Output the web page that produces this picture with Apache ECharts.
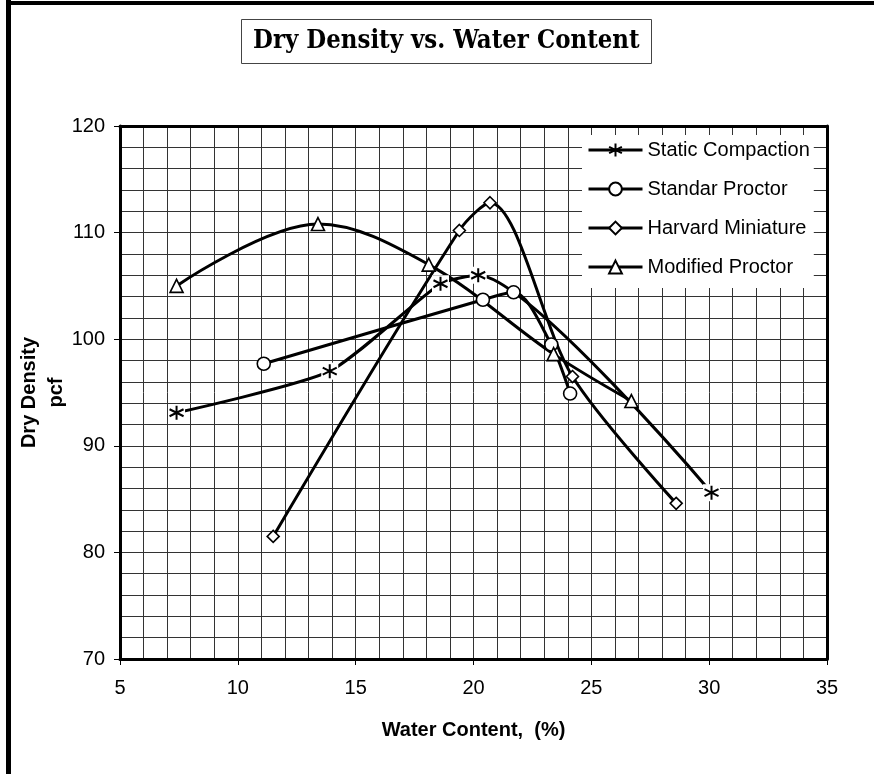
<!DOCTYPE html>
<html><head><meta charset="utf-8">
<script src="https://cdn.jsdelivr.net/npm/echarts@6/dist/echarts.min.js"></script>
<style>html,body{margin:0;padding:0;background:#fff}#c{width:874px;height:774px}</style>
</head><body><div id="c"></div>
<script>
// ---- data ----
const seriesNames = ['Static Compaction', 'Standar Proctor', 'Harvard Miniature', 'Modified Proctor'];
const staticX   = [7.4, 13.9, 18.6, 20.2, 30.1];
const staticY   = [93.1, 97.0, 105.2, 106.0, 85.6];
const standardX = [11.1, 20.4, 21.7, 23.3, 24.1];
const standardY = [97.7, 103.7, 104.4, 99.5, 94.9];
const harvardX  = [11.5, 19.4, 20.7, 24.2, 28.6];
const harvardY  = [81.5, 110.2, 112.8, 96.5, 84.6];
const modifiedX = [7.4, 13.4, 18.1, 23.4, 26.7];
const modifiedY = [105.0, 110.8, 107.0, 98.6, 94.2];
const xTicks = [5, 10, 15, 20, 25, 30, 35];
const yTicks = [70, 80, 90, 100, 110, 120];
const titleText = 'Dry Density vs. Water Content';
const xName = 'Water Content,  (%)';
const yName = 'Dry Density\npcf';

const pairs = (xs, ys) => xs.map((x, i) => [x, ys[i]]);
const ASTER = 'path://M0,-10L0,10M-8.66,-5L8.66,5M-8.66,5L8.66,-5';
const FONT = '"Liberation Sans", Arial, sans-serif';

function lineSeries(name, data, symbol, size, smooth) {
  return {
    name, type: 'line', data, smooth, symbol, symbolSize: size,
    showAllSymbol: true, z: 2,
    lineStyle: { color: '#000', width: 3 },
    itemStyle: { color: '#fff', borderColor: '#000', borderWidth: 1.6, opacity: 1 },
    emphasis: { disabled: true }
  };
}
const grid = { left: 120, top: 126, right: 47, bottom: 115 };
const gridLine = { show: true, lineStyle: { color: '#333', width: 1 } };

const option = {
  backgroundColor: '#fff',
  animation: false,
  title: {
    text: titleText, left: 241, top: 19,
    padding: [7, 12, 7, 12],
    borderColor: '#444', borderWidth: 1,
    textStyle: { fontFamily: '"DejaVu Serif Condensed", "Liberation Serif", serif', fontWeight: 'bold', fontSize: 25.5, lineHeight: 31, color: '#000' }
  },
  legend: {
    data: seriesNames, orient: 'vertical', left: 582, top: 135,
    itemWidth: 54, itemHeight: 16, itemGap: 17,
    padding: [4, 4, 10, 5], backgroundColor: '#fff',
    lineStyle: { width: 3, color: '#000' },
    textStyle: { fontFamily: FONT, fontSize: 20, lineHeight: 22, color: '#000' },
    selectedMode: false
  },
  grid,
  xAxis: [{
    type: 'value', min: 5, max: 35, interval: 5,
    name: xName, nameLocation: 'middle', nameGap: 61,
    nameTextStyle: { fontFamily: FONT, fontWeight: 'bold', fontSize: 20, color: '#000' },
    axisLine: { show: true, onZero: false, lineStyle: { color: '#000', width: 3 } },
    axisTick: { show: true, length: 6, lineStyle: { color: '#000', width: 1 } },
    axisLabel: { fontFamily: FONT, fontSize: 20, color: '#000', margin: 19,
      formatter: v => xTicks.includes(v) ? String(v) : '' },
    splitLine: gridLine,
    minorTick: { show: false, splitNumber: 5 },
    minorSplitLine: gridLine
  }, {
    type: 'value', min: 5, max: 35, position: 'top',
    axisLine: { show: true, lineStyle: { color: '#000', width: 3 } },
    axisTick: { show: false }, axisLabel: { show: false }, splitLine: { show: false }
  }],
  yAxis: [{
    type: 'value', min: 70, max: 120, interval: 10,
    name: yName, nameLocation: 'middle', nameGap: 50, nameRotate: 90, nameMoveOverlap: false,
    nameTextStyle: { fontFamily: FONT, fontWeight: 'bold', fontSize: 20, lineHeight: 27, color: '#000' },
    axisLine: { show: true, onZero: false, lineStyle: { color: '#000', width: 3 } },
    axisTick: { show: true, length: 6, lineStyle: { color: '#000', width: 1 } },
    axisLabel: { fontFamily: FONT, fontSize: 20, color: '#000', margin: 15,
      formatter: v => yTicks.includes(v) ? String(v) : '' },
    splitLine: gridLine,
    minorTick: { show: false, splitNumber: 5 },
    minorSplitLine: gridLine
  }, {
    type: 'value', min: 70, max: 120, position: 'right',
    axisLine: { show: true, lineStyle: { color: '#000', width: 3 } },
    axisTick: { show: false }, axisLabel: { show: false }, splitLine: { show: false }
  }],
  series: [
    lineSeries(seriesNames[0], pairs(staticX, staticY), ASTER, 14, 0.2),
    lineSeries(seriesNames[1], pairs(standardX, standardY), 'circle', 13, 0.3),
    lineSeries(seriesNames[2], pairs(harvardX, harvardY), 'diamond', 12, 0.3),
    lineSeries(seriesNames[3], pairs(modifiedX, modifiedY), 'triangle', 13, 0.35),
    { name: 'sc-halo', type: 'scatter', data: pairs(staticX, staticY), symbol: 'rect', symbolSize: 17,
      itemStyle: { color: '#fff', opacity: 1 }, z: 3, silent: true },
    { name: 'sc-mark', type: 'scatter', data: pairs(staticX, staticY), symbol: ASTER, symbolSize: 14,
      itemStyle: { color: '#fff', borderColor: '#000', borderWidth: 2, opacity: 1 }, z: 4, silent: true }
  ],
  graphic: [
    { type: 'rect', shape: { x: 6, y: 0, width: 5, height: 774 }, style: { fill: '#000' }, silent: true },
    { type: 'rect', shape: { x: 6, y: 1, width: 868, height: 4 }, style: { fill: '#000' }, silent: true }
  ]
};
const chart = echarts.init(document.getElementById('c'), null, { renderer: 'canvas' });
chart.setOption(option);
</script></body></html>
